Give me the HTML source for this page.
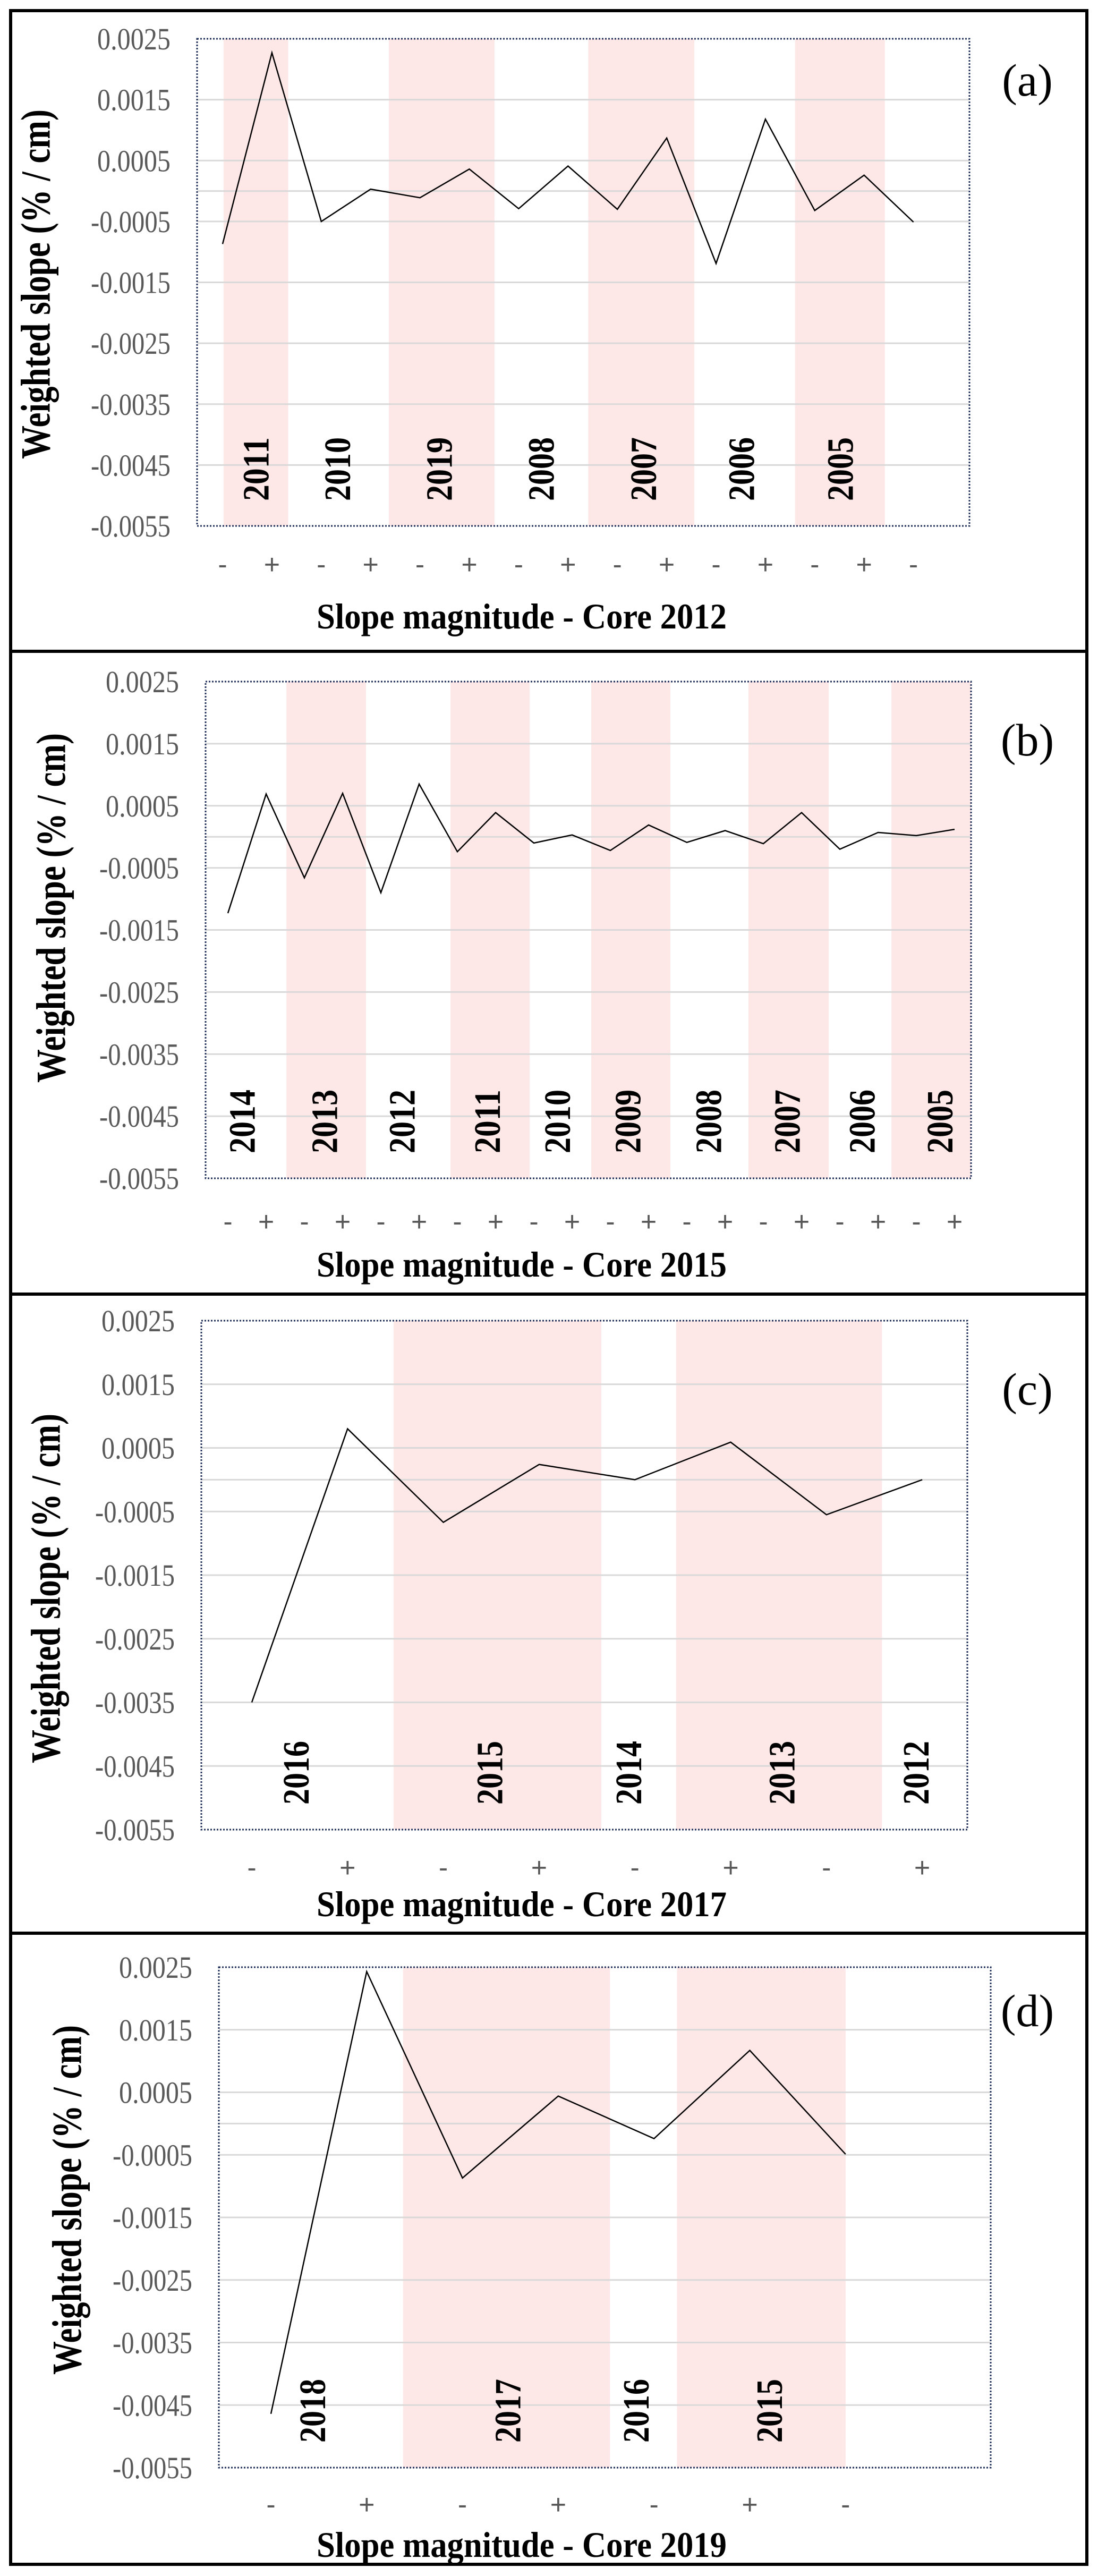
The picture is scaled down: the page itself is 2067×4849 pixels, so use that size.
<!DOCTYPE html>
<html><head><meta charset="utf-8">
<style>
html,body{margin:0;padding:0;background:#fff;}
svg{display:block;}
</style></head>
<body>
<svg id="fig" width="2067" height="4849" viewBox="0 0 2067 4849" xmlns="http://www.w3.org/2000/svg">
<rect x="20" y="20" width="2026" height="4807" fill="none" stroke="#000" stroke-width="6"/>
<line x1="20" y1="1226" x2="2046" y2="1226" stroke="#000" stroke-width="6"/>
<line x1="20" y1="2436" x2="2046" y2="2436" stroke="#000" stroke-width="6"/>
<line x1="20" y1="3639" x2="2046" y2="3639" stroke="#000" stroke-width="6"/>
</svg>
<script>
// Panel (a) data
const aValues = [-0.00087, 0.00227, -0.0005, 0.00003, -0.00011, 0.00036, -0.00029, 0.00041, -0.0003, 0.00087, -0.00119, 0.00118, -0.00032, 0.00026, -0.00051];
const aSigns = ["-","+","-","+","-","+","-","+","-","+","-","+","-","+","-"];
const aYears = ["2011","2010","2019","2008","2007","2006","2005"];
const aYearPos = [0.69, 2.34, 4.4, 6.47, 8.54, 10.53, 12.53];
const aBands = [[0.02,1.33],[3.37,5.51],[7.41,9.56],[11.6,13.42]];
// Panel (b) data
const bValues = [-0.00123, 0.00069, -0.00066, 0.0007, -0.0009, 0.00085, -0.00024, 0.00039, -0.0001, 0.00003, -0.00022, 0.00019, -0.00009, 0.0001, -0.00011, 0.00039, -0.0002, 0.00007, 0.00002, 0.00012];
const bSigns = ["-","+","-","+","-","+","-","+","-","+","-","+","-","+","-","+","-","+","-","+"];
const bYears = ["2014","2013","2012","2011","2010","2009","2008","2007","2006","2005"];
const bYearPos = [0.39, 2.54, 4.57, 6.8, 8.63, 10.47, 12.58, 14.64, 16.6, 18.63];
const bBands = [[1.53,3.61],[5.82,7.89],[9.5,11.57],[13.61,15.71],[17.35,19.43]];
// Panel (c) data
const cValues = [-0.0035, 0.0008, -0.00067, 0.00024, 0.0, 0.00059, -0.00055, 0.0];
const cSigns = ["-","+","-","+","-","+","-","+"];
const cYears = ["2016","2015","2014","2013","2012"];
const cYearPos = [0.47, 2.49, 3.94, 5.54, 6.94];
const cBands = [[1.48,3.65],[4.43,6.58]];
// Panel (d) data
const dValues = [-0.00464, 0.00243, -0.00087, 0.00044, -0.00024, 0.00117, -0.00049];
const dSigns = ["-","+","-","+","-","+","-"];
const dYears = ["2018","2017","2016","2015"];
const dYearPos = [0.44, 2.48, 3.82, 5.21];
const dBands = [[1.38,3.54],[4.24,6.0]];
// Shared axis
const yTicks = [0.0025, 0.0015, 0.0005, -0.0005, -0.0015, -0.0025, -0.0035, -0.0045, -0.0055];
const yTickLabels = ["0.0025","0.0015","0.0005","-0.0005","-0.0015","-0.0025","-0.0035","-0.0045","-0.0055"];
const gridValues = [0.0015, 0.0005, 0, -0.0005, -0.0015, -0.0025, -0.0035, -0.0045];
const yMax = 0.0025, yMin = -0.0055;

const NS = "http://www.w3.org/2000/svg";
const svg = document.getElementById("fig");
function mk(tag, attrs, parent) {
  const e = document.createElementNS(NS, tag);
  for (const k in attrs) e.setAttribute(k, attrs[k]);
  (parent || svg).appendChild(e);
  return e;
}

function panel(id, L, values, signs, years, yearPos, bands) {
  const g = mk("g", {});
  
  
  const yS = v => L.top + (yMax - v) / (yMax - yMin) * (L.bottom - L.top);
  const xS = i => L.x0 + L.step * i;
  bands.forEach((b, k) => {
    const r = mk("rect", {x: xS(b[0]), y: L.top, width: xS(b[1]) - xS(b[0]), height: L.bottom - L.top, fill: "#fde7e7"}, g);
    
    
  });
  gridValues.forEach(v => {
    const l = mk("line", {x1: L.left, x2: L.right, y1: yS(v), y2: yS(v), stroke: "#d9d9d9", "stroke-width": 3}, g);
    
    
  });
  const fr = mk("rect", {x: L.left, y: L.top, width: L.right - L.left, height: L.bottom - L.top, fill: "none", stroke: "#1f2f5a", "stroke-width": 3, "stroke-dasharray": "3 3"}, g);
  
  
  yTicks.forEach((v, k) => {
    const t = mk("text", {x: L.left - 50, y: yS(v) + 20, "text-anchor": "end", "font-family": "Liberation Serif, serif", "font-size": 58, fill: "#595959", textLength: yTickLabels[k].length > 6 ? 150 : 138, lengthAdjust: "spacingAndGlyphs"}, g);
    t.textContent = yTickLabels[k];
    
    
  });
  years.forEach((yr, k) => {
    const cx = xS(yearPos[k]), cy = L.bottom - 107;
    const t = mk("text", {x: 0, y: 0, transform: `translate(${cx},${cy}) rotate(-90)`, "text-anchor": "middle", "dominant-baseline": "central", "font-family": "Liberation Serif, serif", "font-weight": "bold", "font-size": 70, fill: "#000", textLength: 120, lengthAdjust: "spacingAndGlyphs"}, g);
    t.textContent = yr;
    
    
  });
  const pts = values.map((v, i) => xS(i) + "," + yS(v)).join(" ");
  const pl = mk("polyline", {points: pts, fill: "none", stroke: "#000", "stroke-width": 2.5, "stroke-linejoin": "miter"}, g);
  
  
  signs.forEach((s, i) => {
    const t = mk("text", {x: xS(i), y: L.signY + 17, "text-anchor": "middle", "font-family": "Liberation Sans, sans-serif", "font-size": 52, fill: "#595959"}, g);
    t.textContent = s;
    
    
  });
  const xt = mk("text", {x: 982, y: L.titleY, "text-anchor": "middle", "font-family": "Liberation Serif, serif", "font-weight": "bold", "font-size": 68, fill: "#000", textLength: 772, lengthAdjust: "spacingAndGlyphs"}, g);
  xt.textContent = "Slope magnitude - Core " + L.core;
  
  
  const yt = mk("text", {x: 0, y: 0, transform: `translate(${L.ytX},${L.ytY}) rotate(-90)`, "text-anchor": "middle", "dominant-baseline": "central", "font-family": "Liberation Serif, serif", "font-weight": "bold", "font-size": 78, fill: "#000", textLength: 658, lengthAdjust: "spacingAndGlyphs"}, g);
  yt.textContent = "Weighted slope (% / cm)";
  
  
  const pl2 = mk("text", {x: 1934, y: L.labY, "text-anchor": "middle", "font-family": "Liberation Serif, serif", "font-size": 86, fill: "#000"}, g);
  pl2.textContent = "(" + id + ")";
  
  
}

panel("a", {left: 371, right: 1825, top: 73, bottom: 990, x0: 419, step: 92.9, signY: 1063, titleY: 1183, core: "2012", ytX: 67, ytY: 535, labY: 180}, aValues, aSigns, aYears, aYearPos, aBands);
panel("b", {left: 387, right: 1828, top: 1283, bottom: 2218, x0: 429, step: 72, signY: 2300, titleY: 2403, core: "2015", ytX: 96, ytY: 1709, labY: 1422}, bValues, bSigns, bYears, bYearPos, bBands);
panel("c", {left: 379, right: 1821, top: 2486, bottom: 3444, x0: 474, step: 180.3, signY: 3516, titleY: 3607, core: "2017", ytX: 86, ytY: 2990, labY: 2644}, cValues, cSigns, cYears, cYearPos, cBands);
panel("d", {left: 412, right: 1865, top: 3703, bottom: 4645, x0: 510, step: 180.3, signY: 4715, titleY: 4813, core: "2019", ytX: 126, ytY: 4141, labY: 3814}, dValues, dSigns, dYears, dYearPos, dBands);
</script>
</body></html>
